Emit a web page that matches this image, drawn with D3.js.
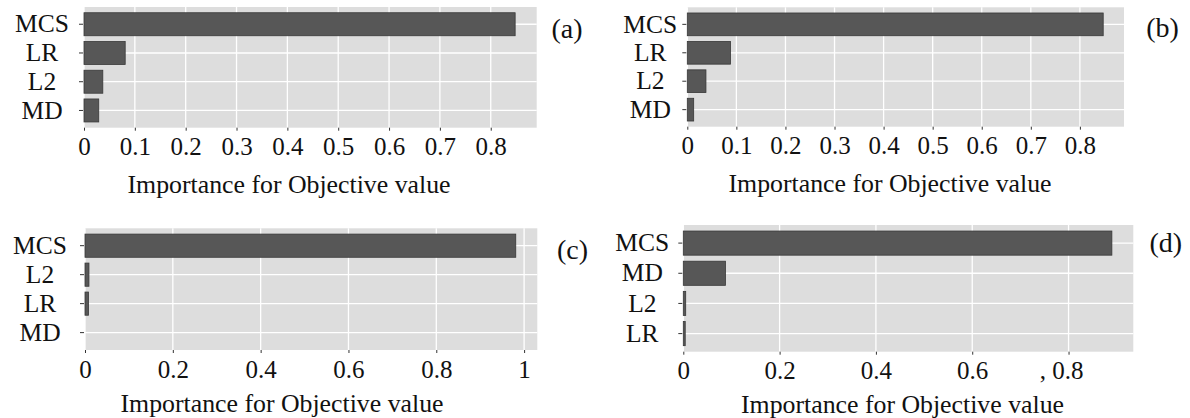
<!DOCTYPE html>
<html>
<head>
<meta charset="utf-8">
<script src="https://cdn.jsdelivr.net/npm/d3@7"></script>
<style>
  html, body { margin: 0; padding: 0; background: #fff; }
  svg { display: block; font-family: "Liberation Serif", "Times New Roman", Times, serif; }
</style>
</head>
<body>
<svg id="chart" width="1190" height="418"></svg>
<script>
// data (top row first, rows in plotted order)
const featuresA = ["MCS", "LR", "L2", "MD"];
const importanceA = [0.848, 0.081, 0.037, 0.029];

const featuresB = ["MCS", "LR", "L2", "MD"];
const importanceB = [0.8475, 0.088, 0.038, 0.013];

const featuresC = ["MCS", "L2", "LR", "MD"];
const importanceC = [0.981, 0.009, 0.008, 0];

const featuresD = ["MCS", "MD", "L2", "LR"];
const importanceD = [0.89, 0.0875, 0.005, 0.004];

const ticksTop = [0, 0.1, 0.2, 0.3, 0.4, 0.5, 0.6, 0.7, 0.8];
const tickLabelsTop = ["0", "0.1", "0.2", "0.3", "0.4", "0.5", "0.6", "0.7", "0.8"];
const ticksC = [0, 0.2, 0.4, 0.6, 0.8, 1];
const tickLabelsC = ["0", "0.2", "0.4", "0.6", "0.8", "1"];
const ticksD = [0, 0.2, 0.4, 0.6, 0.8];
const tickLabelsD = ["0", "0.2", "0.4", "0.6", ", 0.8"];

const axisTitle = "Importance for Objective value";

const importancePanel = () => {
  let features, values, ticks, tickLabels, tag;
  let box; // panel rectangle
  let layout; // where the text sits around it

  const my = (selection) => {
    const g = selection.append("g").attr("class", "panel");

    // ggplot style: no room left of zero, 5% to the right
    const x = d3.scaleLinear()
      .domain([0, d3.max(values) * 1.05])
      .range([box.left, box.right]);

    const y = d3.scaleBand()
      .domain(features)
      .range([box.top, box.bottom])
      .paddingInner(0.2)
      .paddingOuter(0.2);

    g.append("rect")
      .attr("x", box.left)
      .attr("y", box.top)
      .attr("width", box.right - box.left)
      .attr("height", box.bottom - box.top)
      .attr("fill", "#dddddd");

    // grid
    g.selectAll("line.vgrid")
      .data(ticks)
      .join("line")
      .attr("class", "vgrid")
      .attr("x1", (d) => x(d))
      .attr("x2", (d) => x(d))
      .attr("y1", box.top)
      .attr("y2", box.bottom)
      .attr("stroke", "#fff")
      .attr("stroke-width", 1.3);

    g.selectAll("line.hgrid")
      .data(features)
      .join("line")
      .attr("class", "hgrid")
      .attr("x1", box.left)
      .attr("x2", box.right)
      .attr("y1", (d) => y(d) + y.bandwidth() / 2)
      .attr("y2", (d) => y(d) + y.bandwidth() / 2)
      .attr("stroke", "#fff")
      .attr("stroke-width", 1.3);

    g.selectAll("rect.bar")
      .data(features.map((f, i) => ({ f, v: values[i] })))
      .join("rect")
      .attr("class", "bar")
      .attr("x", x(0))
      .attr("y", (d) => y(d.f))
      .attr("width", (d) => x(d.v) - x(0))
      .attr("height", y.bandwidth())
      .attr("fill", "#575757")
      .attr("stroke", (d) => (d.v > 0 ? "#383838" : "none"))
      .attr("stroke-width", 0.8);

    // axes (d3 puts sans-serif on the group, drop it so the serif applies)
    const xAxis = g.append("g")
      .attr("transform", `translate(0,${box.bottom})`)
      .call(
        d3.axisBottom(x)
          .tickValues(ticks)
          .tickFormat((d, i) => tickLabels[i])
          .tickSize(3)
          .tickPadding(7)
      )
      .attr("font-family", null)
      .attr("font-size", 25);
    xAxis.select(".domain").remove();
    xAxis.selectAll("line").attr("stroke", "#333");
    xAxis.selectAll("text")
      .attr("fill", "#111")
      .attr("dx", (d, i) => (tickLabels[i].startsWith(",") ? "-0.3em" : null));

    const yAxis = g.append("g")
      .attr("transform", `translate(${box.left - 1},0)`)
      .call(d3.axisLeft(y).tickSize(4))
      .attr("font-family", null)
      .attr("font-size", 25.5);
    yAxis.select(".domain").remove();
    yAxis.selectAll("line").attr("stroke", "#333");
    yAxis.selectAll("text")
      .attr("fill", "#111")
      .attr("text-anchor", "middle")
      .attr("x", -layout.labelOffset);

    g.append("text")
      .attr("x", layout.titleX)
      .attr("y", layout.titleY)
      .attr("text-anchor", "middle")
      .attr("font-size", 25.8)
      .attr("fill", "#111")
      .text(axisTitle);

    g.append("text")
      .attr("x", layout.tagX)
      .attr("y", layout.tagY)
      .attr("text-anchor", "middle")
      .attr("font-size", 28)
      .attr("fill", "#111")
      .text(tag);
  };

  my.features = function (_) {
    return arguments.length ? ((features = _), my) : features;
  };
  my.values = function (_) {
    return arguments.length ? ((values = _), my) : values;
  };
  my.ticks = function (_, labels) {
    return arguments.length ? ((ticks = _), (tickLabels = labels), my) : ticks;
  };
  my.tag = function (_) {
    return arguments.length ? ((tag = _), my) : tag;
  };
  my.box = function (_) {
    return arguments.length ? ((box = _), my) : box;
  };
  my.layout = function (_) {
    return arguments.length ? ((layout = _), my) : layout;
  };

  return my;
};

const svg = d3.select("#chart");

svg.call(
  importancePanel()
    .features(featuresA)
    .values(importanceA)
    .ticks(ticksTop, tickLabelsTop)
    .tag("(a)")
    .box({ left: 84, right: 536.7, top: 7, bottom: 127.7 })
    .layout({ labelOffset: 41, titleX: 289, titleY: 192.5, tagX: 567, tagY: 38 })
);

svg.call(
  importancePanel()
    .features(featuresB)
    .values(importanceB)
    .ticks(ticksTop, tickLabelsTop)
    .tag("(b)")
    .box({ left: 687.3, right: 1124, top: 7.3, bottom: 126.7 })
    .layout({ labelOffset: 36, titleX: 890, titleY: 191.5, tagX: 1162.5, tagY: 37 })
);

svg.call(
  importancePanel()
    .features(featuresC)
    .values(importanceC)
    .ticks(ticksC, tickLabelsC)
    .tag("(c)")
    .box({ left: 85, right: 537.3, top: 228.3, bottom: 350 })
    .layout({ labelOffset: 44, titleX: 282, titleY: 411.5, tagX: 572.5, tagY: 258.5 })
);

svg.call(
  importancePanel()
    .features(featuresD)
    .values(importanceD)
    .ticks(ticksD, tickLabelsD)
    .tag("(d)")
    .box({ left: 683.3, right: 1133.3, top: 225, bottom: 351.7 })
    .layout({ labelOffset: 40, titleX: 902.5, titleY: 413, tagX: 1165.8, tagY: 252 })
);
</script>
</body>
</html>
